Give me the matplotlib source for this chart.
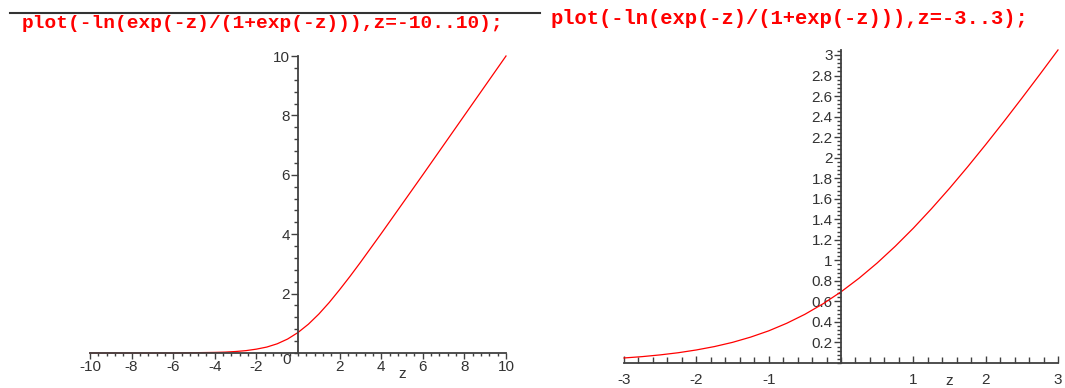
import matplotlib
matplotlib.use("Agg")
import matplotlib.pyplot as plt
from matplotlib.ticker import MultipleLocator, FixedLocator

# ---- data ----
title_left = "plot(-ln(exp(-z)/(1+exp(-z))),z=-10..10);"
title_right = "plot(-ln(exp(-z)/(1+exp(-z))),z=-3..3);"

z_left = [-10, -8, -6, -5, -4, -3.5, -3, -2.5, -2, -1.5, -1, -0.5, 0, 0.5, 1,
          1.5, 2, 2.5, 3, 4, 5, 6, 8, 10]
y_left = [0.00, 0.00, 0.00, 0.01, 0.02, 0.03, 0.05, 0.08, 0.13, 0.20, 0.31,
          0.47, 0.69, 0.97, 1.31, 1.70, 2.13, 2.58, 3.05, 4.02, 5.01, 6.00,
          8.00, 10.00]

z_right = [-3, -2.75, -2.5, -2.25, -2, -1.75, -1.5, -1.25, -1, -0.75, -0.5,
           -0.25, 0, 0.25, 0.5, 0.75, 1, 1.25, 1.5, 1.75, 2, 2.25, 2.5, 2.75, 3]
y_right = [0.049, 0.062, 0.079, 0.100, 0.127, 0.160, 0.201, 0.252, 0.313,
           0.387, 0.474, 0.576, 0.693, 0.826, 0.974, 1.137, 1.313, 1.502,
           1.701, 1.910, 2.127, 2.350, 2.579, 2.812, 3.049]

xticks_left = [-10, -8, -6, -4, -2, 2, 4, 6, 8, 10]
yticks_left = [2, 4, 6, 8, 10]
xticks_right = [-3, -2, -1, 1, 2, 3]
yticks_right = [0.2, 0.4, 0.6, 0.8, 1, 1.2, 1.4, 1.6, 1.8, 2, 2.2, 2.4, 2.6,
                2.8, 3]

W, H = 1065, 388
fig = plt.figure(figsize=(W / 100, H / 100), dpi=100)
fig.patch.set_facecolor("white")

axc = "#404040"
txtc = "#333333"
LS = 11
tfont = dict(family="Liberation Sans", size=LS, color=txtc)


def fx(px):
    return px / W


def fy(py):
    return 1 - py / H


def style(ax):
    for s in ("top", "right"):
        ax.spines[s].set_visible(False)
    for s in ("left", "bottom"):
        ax.spines[s].set_color(axc)
        ax.spines[s].set_linewidth(1.3)
        ax.spines[s].set_zorder(3)
    ax.set_facecolor("none")
    ax.tick_params(which="both", colors=axc, labelcolor=txtc,
                   labelsize=LS, width=1)
    for lab in ax.get_xticklabels() + ax.get_yticklabels():
        lab.set_family("Liberation Sans")


# ---- left plot ----
axL = fig.add_axes([fx(90), fy(353), (506 - 90) / W, (353 - 56) / H])
axL.plot(z_left, y_left, color="#ff0000", lw=0.9, zorder=2, clip_on=False)
axL.set_xlim(-10, 10)
axL.set_ylim(0, 10)
axL.spines["left"].set_position(("data", 0))
axL.spines["bottom"].set_position(("data", 0))
axL.xaxis.set_major_locator(FixedLocator(xticks_left))
axL.xaxis.set_minor_locator(MultipleLocator(0.4))
axL.yaxis.set_major_locator(FixedLocator(yticks_left))
axL.yaxis.set_minor_locator(MultipleLocator(0.4))
axL.set_xticklabels([str(v) for v in xticks_left])
axL.set_yticklabels([str(v) for v in yticks_left])
style(axL)
axL.tick_params(axis="x", which="major", direction="out", length=4, pad=1)
axL.tick_params(axis="x", which="minor", direction="out", length=2)
axL.tick_params(axis="y", which="major", direction="out", length=5, pad=1)
axL.tick_params(axis="y", which="minor", direction="out", length=3)
fig.text(fx(287), fy(360), "0", ha="center", va="center", **tfont)
fig.text(fx(402), fy(374), "z", ha="center", va="center", **tfont)

# ---- right plot ----
axR = fig.add_axes([fx(624), fy(363), (1058 - 624) / W, (363 - 50) / H])
axR.plot(z_right, y_right, color="#ff0000", lw=0.9, zorder=2, clip_on=False)
axR.set_xlim(-3, 3)
axR.set_ylim(0, 3.0486)
axR.spines["left"].set_position(("data", 0))
axR.xaxis.set_major_locator(FixedLocator(xticks_right))
axR.xaxis.set_minor_locator(MultipleLocator(0.2))
axR.yaxis.set_major_locator(FixedLocator(yticks_right))
axR.yaxis.set_minor_locator(MultipleLocator(0.04))
axR.set_xticklabels([str(v) for v in xticks_right])
axR.set_yticklabels([("%g" % v) for v in yticks_right])
style(axR)
axR.tick_params(axis="x", which="major", direction="in", length=5, pad=7)
axR.tick_params(axis="x", which="minor", direction="in", length=4)
axR.tick_params(axis="y", which="major", direction="out", length=5, pad=1)
axR.tick_params(axis="y", which="minor", direction="out", length=3)
fig.text(fx(949), fy(381), "z", ha="center", va="center", **tfont)

# ---- titles (Maple input lines) ----
fig.add_artist(plt.Line2D([fx(10), fx(540)], [fy(13), fy(13)],
                          color="#333333", lw=1.5))
fig.text(fx(22), fy(23), title_left, ha="left", va="center", color="#ff0000",
         family="Liberation Mono", weight="bold", size=14)
fig.text(fx(551), fy(18), title_right, ha="left", va="center",
         color="#ff0000", family="Liberation Mono", weight="bold", size=14.8)

fig.savefig("out.png", dpi=100, facecolor="white")
